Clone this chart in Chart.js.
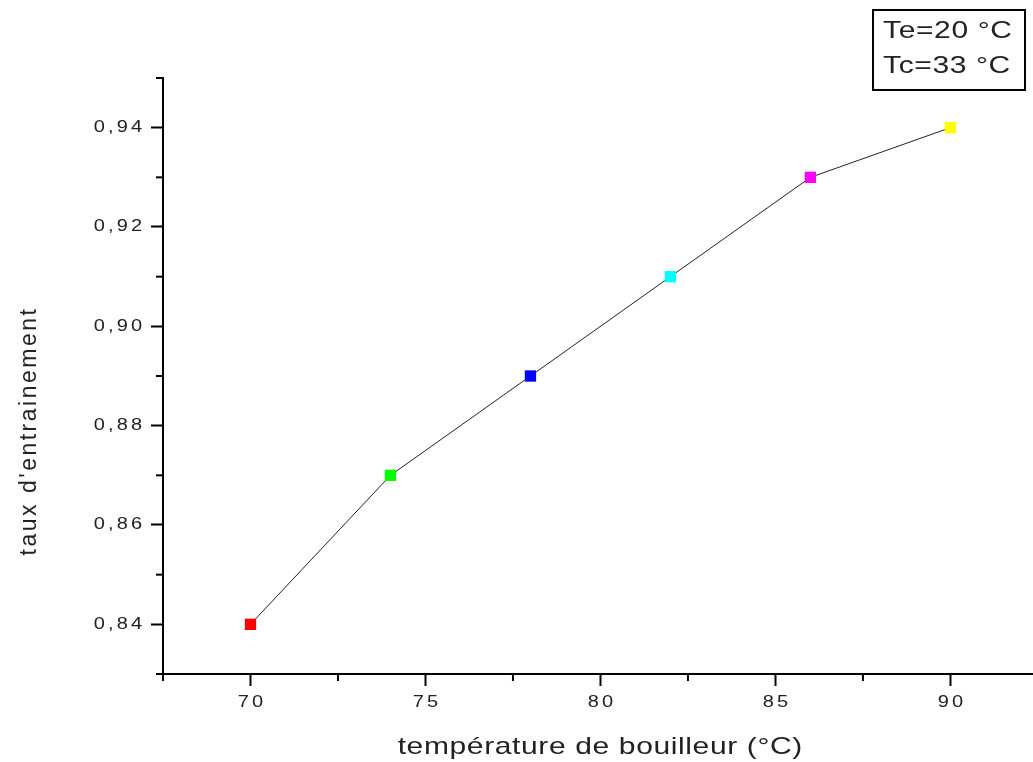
<!DOCTYPE html>
<html>
<head>
<meta charset="utf-8">
<script src="https://cdn.jsdelivr.net/npm/chart.js@4.4.1/dist/chart.umd.min.js"></script>
<style>
  html, body { margin: 0; padding: 0; background: #fff; }
  #wrap { width: 1033px; height: 762px; position: relative; }
</style>
</head>
<body>
<div id="wrap"><canvas id="chart"></canvas></div>
<script>
// Data
const temperatures = [70, 74, 78, 82, 86, 90];
const rates = [0.84, 0.87, 0.89, 0.91, 0.93, 0.94];
const pointColors = ['#ff0000', '#00ff00', '#0000ff', '#00ffff', '#ff00ff', '#ffff00'];

const xTicks = [70, 75, 80, 85, 90];
const xMinorTicks = [67.5, 72.5, 77.5, 82.5, 87.5, 92.5];
const yTicks = [0.84, 0.86, 0.88, 0.90, 0.92, 0.94];
const yMinorTicks = [0.83, 0.85, 0.87, 0.89, 0.91, 0.93, 0.95];
const legendLines = ['Te=20 °C', 'Tc=33 °C'];

const xTitle = 'température de bouilleur (°C)';
const yTitle = "taux d'entrainement";

const FONT = 'Arial, "Liberation Sans", sans-serif';
const STRETCH = 1.25; // the original text looks widened

function fmtY(v) {
  return v.toFixed(2).replace('.', ',');
}

// text drawn a bit wider than normal, like in the picture
function wideText(ctx, text, x, y, size, spacing, align, sx) {
  ctx.save();
  ctx.translate(x, y);
  ctx.scale(sx, 1);
  ctx.font = size + 'px ' + FONT;
  ctx.letterSpacing = spacing + 'px';
  ctx.textAlign = align;
  // letterSpacing adds space after the last glyph too
  let dx = 0;
  if (align === 'center') dx = spacing / 2;
  if (align === 'right') dx = spacing;
  ctx.fillText(text, dx, 0);
  ctx.restore();
}

// draws minor ticks, tick labels, titles and the text box
const decorPlugin = {
  id: 'decor',
  afterDraw(chart) {
    const ctx = chart.ctx;
    const xs = chart.scales.x;
    const ys = chart.scales.y;
    const area = chart.chartArea;
    ctx.save();
    ctx.strokeStyle = '#000';
    ctx.lineWidth = 2;

    // minor ticks
    xMinorTicks.forEach(v => {
      const px = xs.getPixelForValue(v);
      if (px < area.left - 1 || px > area.right + 1) return;
      ctx.beginPath();
      ctx.moveTo(px, area.bottom);
      ctx.lineTo(px, area.bottom + 7);
      ctx.stroke();
    });
    yMinorTicks.forEach(v => {
      const py = ys.getPixelForValue(v);
      ctx.beginPath();
      ctx.moveTo(area.left, py);
      ctx.lineTo(area.left - 7, py);
      ctx.stroke();
    });

    // tick labels
    ctx.fillStyle = '#222';
    ctx.textBaseline = 'middle';
    yTicks.forEach(v => {
      wideText(ctx, fmtY(v), 142, ys.getPixelForValue(v), 16, 2.5, 'right', STRETCH);
    });
    xTicks.forEach(v => {
      wideText(ctx, String(v), xs.getPixelForValue(v), 703, 16, 2.5, 'center', STRETCH);
    });

    // axis titles
    wideText(ctx, xTitle, 600, 747, 24, 0.5, 'center', STRETCH);
    ctx.save();
    ctx.translate(30, 432);
    ctx.rotate(-Math.PI / 2);
    ctx.font = '23px ' + FONT;
    ctx.letterSpacing = '2.5px';
    ctx.textAlign = 'center';
    ctx.fillText(yTitle, 1, 0);
    ctx.restore();

    // text box
    ctx.lineWidth = 2;
    ctx.strokeRect(873, 10, 152, 80);
    legendLines.forEach((t, i) => {
      wideText(ctx, t, 883, 31 + i * 35, 24, 0.5, 'left', STRETCH);
    });
    ctx.restore();
  }
};

const points = temperatures.map((t, i) => ({ x: t, y: rates[i] }));

new Chart(document.getElementById('chart'), {
  type: 'scatter',
  data: {
    datasets: [{
      data: points,
      showLine: true,
      borderColor: '#222',
      borderWidth: 1,
      pointStyle: 'rect',
      pointRadius: 8,
      pointHoverRadius: 8,
      pointBackgroundColor: pointColors,
      pointBorderColor: pointColors,
      pointBorderWidth: 0
    }]
  },
  options: {
    responsive: true,
    maintainAspectRatio: false,
    animation: false,
    layout: { padding: { top: 78, right: 0, bottom: 0, left: 0 }, autoPadding: false },
    plugins: {
      legend: { display: false },
      tooltip: { enabled: false }
    },
    scales: {
      x: {
        type: 'linear',
        min: 67.5,
        max: 92.36,
        afterBuildTicks: s => { s.ticks = xTicks.map(v => ({ value: v })); },
        afterFit: s => { s.height = 88; },
        ticks: { display: false },
        grid: { drawOnChartArea: false, drawTicks: true, tickLength: 12, tickWidth: 2, color: '#000' },
        border: { display: true, color: '#000', width: 2 }
      },
      y: {
        type: 'linear',
        min: 0.83,
        max: 0.95,
        afterBuildTicks: s => { s.ticks = yTicks.map(v => ({ value: v })); },
        afterFit: s => { s.width = 163; },
        ticks: { display: false },
        grid: { drawOnChartArea: false, drawTicks: true, tickLength: 12, tickWidth: 2, color: '#000' },
        border: { display: true, color: '#000', width: 2 }
      }
    }
  },
  plugins: [decorPlugin]
});
</script>
</body>
</html>
